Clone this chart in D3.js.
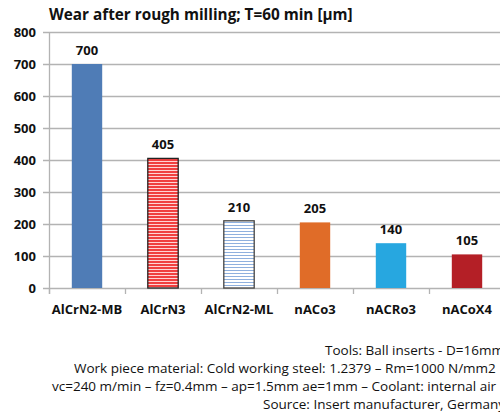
<!DOCTYPE html>
<html><head><meta charset="utf-8">
<script src="https://cdn.jsdelivr.net/npm/d3@7"></script>
<style>body{margin:0;background:#fff}svg{display:block}</style>
</head><body>
<script>
const categories = ["AlCrN2-MB","AlCrN3","AlCrN2-ML","nACo3","nACRo3","nACoX4"];
const values = [700,405,210,205,140,105];
const yTicks = [0,100,200,300,400,500,600,700,800];
const title = "Wear after rough milling; T=60 min [µm]";
const notes = [
  "Tools: Ball inserts - D=16mm",
  "Work piece material: Cold working steel: 1.2379 \u2013 Rm=1000 N/mm2",
  "vc=240 m/min \u2013 fz=0.4mm \u2013 ap=1.5mm ae=1mm \u2013 Coolant: internal air",
  "Source: Insert manufacturer, Germany"
];
const noteX = [325,74,52,263];

const W=500,H=416;
const svg=d3.select("body").append("svg").attr("width",W).attr("height",H);
const defs=svg.append("defs");
const pr=defs.append("pattern").attr("id","redStripe").attr("patternUnits","userSpaceOnUse").attr("width",4).attr("height",3);
pr.append("rect").attr("width",4).attr("height",3).attr("fill","#ffd4d4");
pr.append("rect").attr("width",4).attr("height",2).attr("fill","#f04040");
const pb=defs.append("pattern").attr("id","blueStripe").attr("patternUnits","userSpaceOnUse").attr("width",4).attr("height",3);
pb.append("rect").attr("width",4).attr("height",3).attr("fill","#ffffff");
pb.append("rect").attr("width",4).attr("height",1).attr("fill","#8fb0de");

const fills=["#4f7cb6","url(#redStripe)","url(#blueStripe)","#e06c28","#27a7e0","#b41f26"];
const strokes=[null,"#222","#444",null,null,null];

const mLeft=49,mRight=505,mTop=32,mBottom=288;
const x=d3.scaleBand().domain(categories).range([mLeft,mRight]).paddingInner(0.6).paddingOuter(0.3);
const y=d3.scaleLinear().domain([0,800]).range([mBottom,mTop]);

const font="'Open Sans', sans-serif";
svg.append("g").selectAll("line").data(yTicks).join("line")
  .attr("x1",mLeft-6).attr("x2",W).attr("y1",d=>y(d)+0.5).attr("y2",d=>y(d)+0.5)
  .attr("stroke","#b3b3b3").attr("stroke-width",1.3);
svg.append("line").attr("x1",mLeft+0.5).attr("x2",mLeft+0.5).attr("y1",mTop).attr("y2",mBottom+6).attr("stroke","#b3b3b3").attr("stroke-width",1.3);
const step=x.step();
svg.append("g").selectAll("line").data(d3.range(categories.length+1)).join("line")
  .attr("x1",i=>mLeft+i*step+0.5).attr("x2",i=>mLeft+i*step+0.5).attr("y1",mBottom).attr("y2",mBottom+6)
  .attr("stroke","#b3b3b3").attr("stroke-width",1.3);
svg.append("g").selectAll("text").data(yTicks).join("text")
  .attr("x",36).attr("y",d=>y(d)+5).attr("text-anchor","end")
  .attr("font-family",font).attr("font-weight","bold").attr("font-size",13).attr("fill","#111").text(d=>d);
svg.append("g").selectAll("rect").data(values).join("rect")
  .attr("x",(d,i)=>x(categories[i])).attr("width",x.bandwidth())
  .attr("y",d=>y(d)).attr("height",d=>mBottom-y(d))
  .attr("fill",(d,i)=>fills[i]).attr("stroke",(d,i)=>strokes[i]||"none").attr("stroke-width",1.3);
svg.append("g").selectAll("text").data(values).join("text")
  .attr("x",(d,i)=>x(categories[i])+x.bandwidth()/2).attr("y",d=>y(d)-9)
  .attr("text-anchor","middle").attr("font-family",font).attr("font-weight","bold").attr("font-size",13).attr("fill","#111").text(d=>d);
svg.append("g").selectAll("text").data(categories).join("text")
  .attr("x",d=>x(d)+x.bandwidth()/2).attr("y",314)
  .attr("text-anchor","middle").attr("font-family",font).attr("font-weight","bold").attr("font-size",13).attr("fill","#111").text(d=>d);
svg.append("text").attr("x",49).attr("y",20).attr("font-family",font).attr("font-weight","bold").attr("font-size",15.3).attr("fill","#111").text(title);
svg.append("g").selectAll("text").data(notes).join("text")
  .attr("x",(d,i)=>noteX[i]).attr("y",(d,i)=>355+i*18)
  .attr("font-family",font).attr("font-size",13.5).attr("fill","#111").text(d=>d);
</script>
</body></html>
